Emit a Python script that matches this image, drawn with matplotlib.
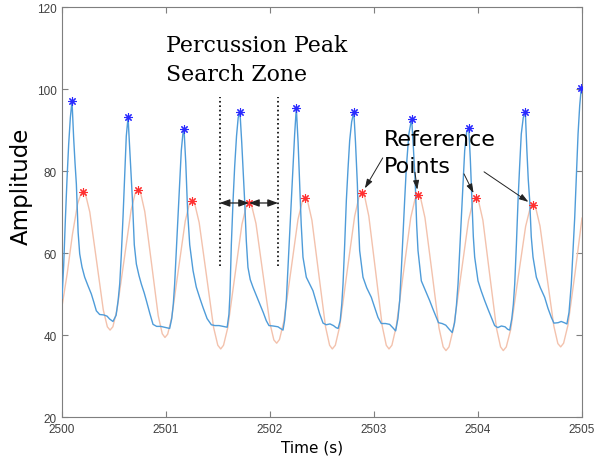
import matplotlib
matplotlib.use("Agg")
import matplotlib.pyplot as plt

# sensor trace (blue) and reference trace (orange), time in seconds
blue_t = [2500.000, 2500.016, 2500.032, 2500.048, 2500.064, 2500.080, 2500.096,
          2500.112, 2500.125, 2500.138, 2500.155, 2500.170, 2500.192, 2500.218, 2500.250,
          2500.282, 2500.306, 2500.330, 2500.362, 2500.400, 2500.433, 2500.458, 2500.490,
          2500.520, 2500.540, 2500.555, 2500.570, 2500.587, 2500.603, 2500.618, 2500.635,
          2500.650, 2500.663, 2500.677, 2500.695, 2500.715, 2500.740, 2500.763, 2500.790,
          2500.811, 2500.845, 2500.875, 2500.910, 2500.950, 2500.985, 2501.035,
          2501.055, 2501.070, 2501.083, 2501.099, 2501.115, 2501.131, 2501.147, 2501.162, 2501.173,
          2501.190, 2501.208, 2501.228, 2501.260, 2501.291, 2501.325, 2501.356, 2501.395,
          2501.436, 2501.470, 2501.510, 2501.548, 2501.588,
          2501.605, 2501.615, 2501.628, 2501.645, 2501.660, 2501.678, 2501.694, 2501.711,
          2501.728, 2501.742, 2501.756, 2501.772, 2501.788, 2501.810, 2501.837, 2501.870,
          2501.901, 2501.935, 2501.964, 2501.990, 2502.030, 2502.077, 2502.100, 2502.125,
          2502.140, 2502.157, 2502.172, 2502.189, 2502.205, 2502.221, 2502.237, 2502.253,
          2502.270, 2502.285, 2502.300, 2502.317, 2502.349, 2502.380, 2502.413, 2502.445,
          2502.478, 2502.510, 2502.540, 2502.577, 2502.610, 2502.635, 2502.655,
          2502.675, 2502.690, 2502.702, 2502.718, 2502.734, 2502.750, 2502.766, 2502.785, 2502.806,
          2502.822, 2502.840, 2502.850, 2502.862, 2502.894, 2502.930, 2502.974, 2503.005,
          2503.038, 2503.070, 2503.110, 2503.150, 2503.180, 2503.208,
          2503.230, 2503.247, 2503.263, 2503.279, 2503.295, 2503.311, 2503.335, 2503.362,
          2503.378, 2503.397, 2503.410, 2503.423, 2503.455, 2503.495, 2503.535, 2503.567,
          2503.599, 2503.620, 2503.655, 2503.690, 2503.720, 2503.752,
          2503.775, 2503.792, 2503.808, 2503.824, 2503.840, 2503.856, 2503.872, 2503.891, 2503.911,
          2503.926, 2503.942, 2503.955, 2503.968, 2504.000, 2504.030, 2504.064, 2504.096,
          2504.128, 2504.160, 2504.190, 2504.225, 2504.260, 2504.285, 2504.305,
          2504.325, 2504.340, 2504.353, 2504.369, 2504.385, 2504.400, 2504.416, 2504.435, 2504.455,
          2504.470, 2504.483, 2504.497, 2504.512, 2504.529, 2504.561, 2504.600, 2504.641,
          2504.673, 2504.705, 2504.730, 2504.770, 2504.800, 2504.830, 2504.855,
          2504.875, 2504.897, 2504.913, 2504.930, 2504.946, 2504.962, 2504.978, 2504.993, 2505.000]
blue_v = [49.0, 57.0, 68.0, 78.0, 86.5, 93.0, 97.1,
          88.0, 82.0, 76.8, 65.0, 59.8, 56.6, 54.1, 52.0,
          50.0, 48.0, 45.9, 45.0, 44.9, 44.6, 43.9, 43.3,
          44.8, 48.5, 52.5, 59.5, 69.0, 79.0, 88.5, 93.1,
          86.0, 80.0, 73.0, 62.0, 57.3, 54.5, 52.4, 50.3,
          48.4, 45.2, 42.6, 42.1, 42.1, 41.9, 41.6,
          44.0, 47.5, 52.4, 60.5, 68.7, 77.0, 85.0, 89.0, 90.2,
          82.0, 70.0, 62.0, 55.7, 51.7, 49.0, 46.7, 44.0,
          42.5, 42.3, 42.3, 42.1, 41.9,
          45.0, 50.0, 62.0, 73.0, 81.0, 88.5, 93.0, 94.4,
          87.0, 80.0, 72.8, 63.0, 56.5, 53.5, 51.6, 49.5,
          47.6, 45.5, 43.5, 42.3, 42.2, 42.0, 41.6, 41.2,
          43.5, 48.4, 56.0, 64.6, 73.0, 81.0, 89.0, 95.4,
          87.0, 76.8, 67.0, 59.0, 54.1, 52.5, 50.8, 48.0,
          45.1, 42.9, 42.5, 42.7, 42.3, 41.8, 41.6,
          43.5, 47.5, 52.4, 62.0, 72.8, 80.5, 87.4, 92.0, 94.4,
          87.0, 76.8, 68.0, 60.6, 54.1, 51.5, 49.2, 46.8,
          44.3, 42.8, 42.8, 42.6, 41.8, 41.0,
          44.0, 48.4, 56.0, 64.6, 73.0, 80.9, 89.0, 92.8,
          86.0, 76.8, 67.0, 60.6, 53.2, 50.8, 48.4, 46.3,
          44.3, 43.0, 42.8, 42.4, 41.5, 40.6,
          43.0, 47.0, 52.4, 60.5, 68.7, 77.0, 85.0, 89.5, 90.5,
          83.0, 72.8, 64.0, 59.0, 53.2, 50.8, 48.4, 46.3,
          44.3, 42.3, 41.8, 42.2, 42.0, 41.4, 41.2,
          44.0, 47.5, 52.4, 62.0, 72.8, 81.0, 89.0, 93.0, 94.4,
          85.0, 78.0, 72.8, 64.0, 59.0, 54.1, 51.5, 49.2,
          46.5, 44.3, 42.9, 43.0, 43.3, 43.0, 42.7,
          45.5, 52.4, 60.5, 68.7, 79.0, 89.0, 96.0, 100.2, 99.0]

ref_line_t = [2500.000, 2500.050, 2500.100, 2500.150, 2500.180, 2500.202,
              2500.228, 2500.267, 2500.332, 2500.397, 2500.436, 2500.462,
              2500.489, 2500.529, 2500.597, 2500.664, 2500.704, 2500.731,
              2500.757, 2500.796, 2500.861, 2500.925, 2500.964, 2500.990,
              2501.016, 2501.055, 2501.120, 2501.185, 2501.224, 2501.250,
              2501.278, 2501.319, 2501.388, 2501.457, 2501.498, 2501.526,
              2501.553, 2501.594, 2501.662, 2501.730, 2501.771, 2501.798,
              2501.825, 2501.865, 2501.931, 2501.998, 2502.037, 2502.064,
              2502.091, 2502.132, 2502.201, 2502.269, 2502.310, 2502.337,
              2502.363, 2502.403, 2502.468, 2502.534, 2502.573, 2502.599,
              2502.628, 2502.671, 2502.742, 2502.814, 2502.856, 2502.885,
              2502.911, 2502.950, 2503.015, 2503.079, 2503.118, 2503.144,
              2503.172, 2503.214, 2503.284, 2503.353, 2503.395, 2503.423,
              2503.450, 2503.490, 2503.558, 2503.625, 2503.665, 2503.692,
              2503.721, 2503.764, 2503.837, 2503.909, 2503.952, 2503.981,
              2504.007, 2504.047, 2504.112, 2504.178, 2504.217, 2504.243,
              2504.272, 2504.315, 2504.386, 2504.458, 2504.500, 2504.529,
              2504.556, 2504.596, 2504.662, 2504.729, 2504.768, 2504.795,
              2504.823, 2504.864, 2504.933, 2505.000]
ref_line_v = [47.0, 55.0, 64.5, 72.0, 74.3, 74.9,
              74.1, 70.0, 58.1, 46.1, 42.0, 41.2,
              42.0, 46.2, 58.3, 70.4, 74.6, 75.4,
              74.5, 70.1, 57.4, 44.7, 40.3, 39.4,
              40.2, 44.3, 56.1, 67.8, 71.9, 72.7,
              71.8, 67.4, 54.7, 41.9, 37.5, 36.6,
              37.5, 41.8, 54.4, 67.0, 71.3, 72.2,
              71.4, 67.2, 55.1, 43.0, 38.8, 38.0,
              38.9, 43.2, 55.7, 68.2, 72.5, 73.4,
              72.5, 68.0, 55.0, 42.0, 37.5, 36.6,
              37.5, 42.2, 55.6, 69.0, 73.7, 74.6,
              73.7, 69.0, 55.6, 42.2, 37.5, 36.6,
              37.5, 42.1, 55.4, 68.6, 73.2, 74.1,
              73.2, 68.6, 55.2, 41.7, 37.1, 36.2,
              37.1, 41.6, 54.8, 68.0, 72.5, 73.4,
              72.5, 68.0, 54.8, 41.6, 37.1, 36.2,
              37.1, 41.4, 54.0, 66.5, 70.8, 71.7,
              70.9, 66.6, 54.4, 42.2, 37.9, 37.1,
              38.0, 42.3, 55.1, 68.5]

# detected peaks
peak_t = [2500.096, 2500.635, 2501.173, 2501.711, 2502.253,
          2502.806, 2503.362, 2503.911, 2504.455, 2504.993]
peak_v = [97.1, 93.1, 90.2, 94.4, 95.4, 94.4, 92.8, 90.5, 94.4, 100.2]

# reference points
ref_t = [2500.202, 2500.731, 2501.250, 2501.798, 2502.337,
         2502.885, 2503.423, 2503.981, 2504.529]
ref_v = [74.9, 75.4, 72.7, 72.2, 73.4, 74.6, 74.1, 73.4, 71.7]

# search zone limits
zone_t = [2501.516, 2502.077]
zone_v = [56.8, 98.0]

x_ticks = [2500, 2501, 2502, 2503, 2504, 2505]
y_ticks = [20, 40, 60, 80, 100, 120]

fig = plt.figure(figsize=(5.94, 4.6), dpi=100)
ax = fig.add_axes([0.1044, 0.0913, 0.8754, 0.8913])

ax.plot(ref_line_t, ref_line_v, color='#f3c2ad', lw=1.0, zorder=2)
ax.plot(blue_t, blue_v, color='#4f9cd9', lw=1.0, zorder=3)

asterisk = (8, 2, 0)
ax.plot(peak_t, peak_v, ls='none', marker=asterisk, ms=6, mew=0.8,
        color='#2a2aff', zorder=5)
ax.plot(ref_t, ref_v, ls='none', marker=asterisk, ms=6, mew=0.8,
        color='#ff3030', zorder=5)

# dotted zone boundaries
for zt in zone_t:
    ax.plot([zt, zt], zone_v, color='black', ls=':', lw=1.2, zorder=4)

# double arrows from the boundaries to the reference point
arrow_y = ref_v[3]
dbl = dict(arrowstyle='<|-|>,head_length=0.6,head_width=0.22',
           color='#222222', lw=0.9, shrinkA=0, shrinkB=0)
ax.annotate('', xy=(ref_t[3], arrow_y), xytext=(zone_t[0], arrow_y),
            arrowprops=dbl, zorder=6)
ax.annotate('', xy=(zone_t[1], arrow_y), xytext=(ref_t[3], arrow_y),
            arrowprops=dbl, zorder=6)

ax.text(2501.0, 113.3, 'Percussion Peak\nSearch Zone', family='DejaVu Serif',
        fontsize=15.8, va='top', ha='left', linespacing=1.38)

ax.text(2503.096, 90.2, 'Reference\nPoints', fontsize=16, va='top',
        ha='left', linespacing=1.42)

# arrows from the label to a few reference points
arrow_starts = [(2503.084, 83.2), (2503.394, 79.7), (2503.865, 79.3), (2504.058, 79.8)]
one = dict(arrowstyle='-|>,head_length=0.55,head_width=0.18',
           color='#222222', lw=0.7, shrinkA=0, shrinkB=4)
for (sx, sy), i in zip(arrow_starts, [5, 6, 7, 8]):
    ax.annotate('', xy=(ref_t[i], ref_v[i]), xytext=(sx, sy),
                arrowprops=one, zorder=6)

ax.set_xlim(2500, 2505)
ax.set_ylim(20, 120)
ax.set_xticks(x_ticks)
ax.set_yticks(y_ticks)
ax.set_xticklabels([str(v) for v in x_ticks], family='Liberation Sans', fontsize=8.5)
ax.set_yticklabels([str(v) for v in y_ticks], family='Liberation Sans', fontsize=8.5)

ax.tick_params(direction='in', length=4, width=0.8, top=True, right=True,
               colors='#7f7f7f', labelcolor='#404040', pad=4)
for s in ax.spines.values():
    s.set_color('#7f7f7f')
    s.set_linewidth(0.8)

ax.set_xlabel('Time (s)', fontsize=11)
ax.xaxis.set_label_coords(0.48, -0.055)
ax.set_ylabel('Amplitude', fontsize=16.5)
ax.yaxis.set_label_coords(-0.056, 0.566)

fig.savefig('out.png', dpi=100)
